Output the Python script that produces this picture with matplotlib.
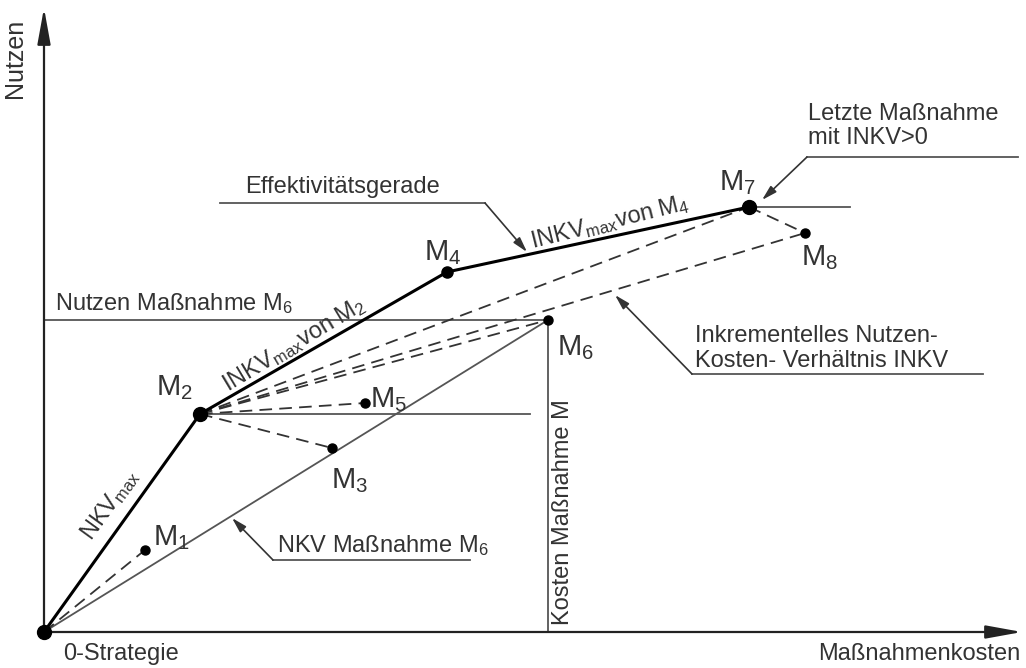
import numpy as np
import matplotlib
matplotlib.use("Agg")
import matplotlib.pyplot as plt

plt.rcParams['font.family'] = ['Liberation Sans', 'DejaVu Sans']
plt.rcParams['mathtext.fontset'] = 'custom'
plt.rcParams['mathtext.rm'] = 'Liberation Sans'
plt.rcParams['mathtext.it'] = 'Liberation Sans'

# Maßnahmen: Kosten (x) und Nutzen (y)
names = ['0', 'M1', 'M2', 'M3', 'M4', 'M5', 'M6', 'M7', 'M8']
kosten = [0, 101, 156, 288, 403, 321, 504, 705, 761]
nutzen = [0, 82, 218, 184, 360, 229, 312, 425, 399]
P = dict(zip(names, zip(kosten, nutzen)))

effektiv = ['0', 'M2', 'M4', 'M7']           # Effektivitätsgerade
gestrichelt = [('0', 'M1'), ('M2', 'M3'), ('M2', 'M5'), ('M2', 'M6'),
               ('M2', 'M7'), ('M2', 'M8'), ('M7', 'M8')]
labels = {'M1': (109, 87), 'M2': (112, 237), 'M3': (287, 144), 'M4': (380, 372),
          'M5': (326, 225), 'M6': (513, 277), 'M7': (675, 442), 'M8': (757, 367)}
dot_size = {'0': 10, 'M2': 10, 'M7': 10, 'M4': 8}

TXT = '#333333'
LINE = '#555555'
FS = 17

fig = plt.figure(figsize=(10.26, 6.68), dpi=100)
ax = fig.add_axes([0, 0, 1, 1])
ax.set_xlim(-44, 982)
ax.set_ylim(-36, 632)
ax.axis('off')

# Achsen
arrow = dict(arrowstyle='-|>,head_length=2.2,head_width=0.4', lw=1.6,
             color='#222222', shrinkA=0, shrinkB=0)
ax.annotate('', xy=(0, 624), xytext=(0, 0), arrowprops=arrow)
ax.annotate('', xy=(978, 0), xytext=(0, 0), arrowprops=arrow)
ax.text(-29, 574, 'Nutzen', rotation=90, ha='center', va='center', fontsize=18, color=TXT)
ax.text(976, -28, 'Maßnahmenkosten', ha='right', va='baseline', fontsize=FS, color=TXT)
ax.text(19, -28, '0-Strategie', ha='left', va='baseline', fontsize=FS, color=TXT)

# Hilfslinien zu M6, M2, M7
m6x, m6y = P['M6']
ax.plot([0, m6x], [m6y, m6y], color=LINE, lw=1.3)
ax.plot([m6x, m6x], [0, m6y], color=LINE, lw=1.3)
ax.plot([P['M2'][0], 486], [P['M2'][1]] * 2, color=LINE, lw=1.3)
ax.plot([P['M7'][0], 806], [P['M7'][1]] * 2, color=LINE, lw=1.3)
ax.plot([0, m6x], [0, m6y], color=LINE, lw=1.3)
ax.text(11, 322, 'Nutzen Maßnahme M$_6$', fontsize=FS, color=TXT, va='baseline')
ax.text(519, 7, 'Kosten Maßnahme M', rotation=90, ha='center', va='bottom',
        fontsize=FS, color=TXT)

# gestrichelte INKV-Linien
for a, b in gestrichelt:
    ax.plot([P[a][0], P[b][0]], [P[a][1], P[b][1]], color='#333333', lw=1.3,
            dashes=(7, 4))

# Effektivitätsgerade
ax.plot([P[n][0] for n in effektiv], [P[n][1] for n in effektiv], color='black', lw=2.2)

# Punkte
for n in names:
    ax.plot(*P[n], 'o', color='black', ms=dot_size.get(n, 6.5), zorder=5)
for n, (lx, ly) in labels.items():
    ax.text(lx, ly, 'M$_{%s}$' % n[1], fontsize=21, color=TXT, va='baseline')

# Beschriftungen entlang der Geraden
ax.text(66, 127, 'NKV$_{\\mathrm{max}}$', rotation=54, ha='center', va='center',
        rotation_mode='anchor', fontsize=FS, color=TXT)
ax.text(250, 287, 'INKV$_{\\mathrm{max}}$von M$_2$', rotation=31, ha='center', va='center',
        rotation_mode='anchor', fontsize=FS, color=TXT)
ax.text(566, 410, 'INKV$_{\\mathrm{max}}$von M$_4$', rotation=14, ha='center', va='center',
        rotation_mode='anchor', fontsize=FS, color=TXT)

# Hinweislinien mit Pfeil
lead = dict(arrowstyle='-|>,head_length=0.9,head_width=0.25', lw=1.2,
            color='#333333', shrinkA=0, shrinkB=0)

def hinweis(x0, x1, y, corner, tip, lines, tx, ty0, dy=25):
    ax.plot([x0, x1], [y, y], color=LINE, lw=1.3)
    ax.annotate('', xy=tip, xytext=(corner, y), arrowprops=lead)
    for i, s in enumerate(lines):
        ax.text(tx, ty0 - i * dy, s, fontsize=FS, color=TXT, va='baseline')

hinweis(176, 441, 429, 441, (483, 380), ['Effektivitätsgerade'], 201, 439)
hinweis(763, 974, 475, 763, (718, 432), ['Letzte Maßnahme', 'mit INKV>0'], 764, 512, 24)
hinweis(648, 939, 258, 648, (571, 337), ['Inkrementelles Nutzen-', 'Kosten- Verhältnis INKV'], 651, 290)
hinweis(229, 426, 72, 229, (188, 114), ['NKV Maßnahme M$_6$'], 233, 80)

fig.savefig('out.png', dpi=100, facecolor='white')
